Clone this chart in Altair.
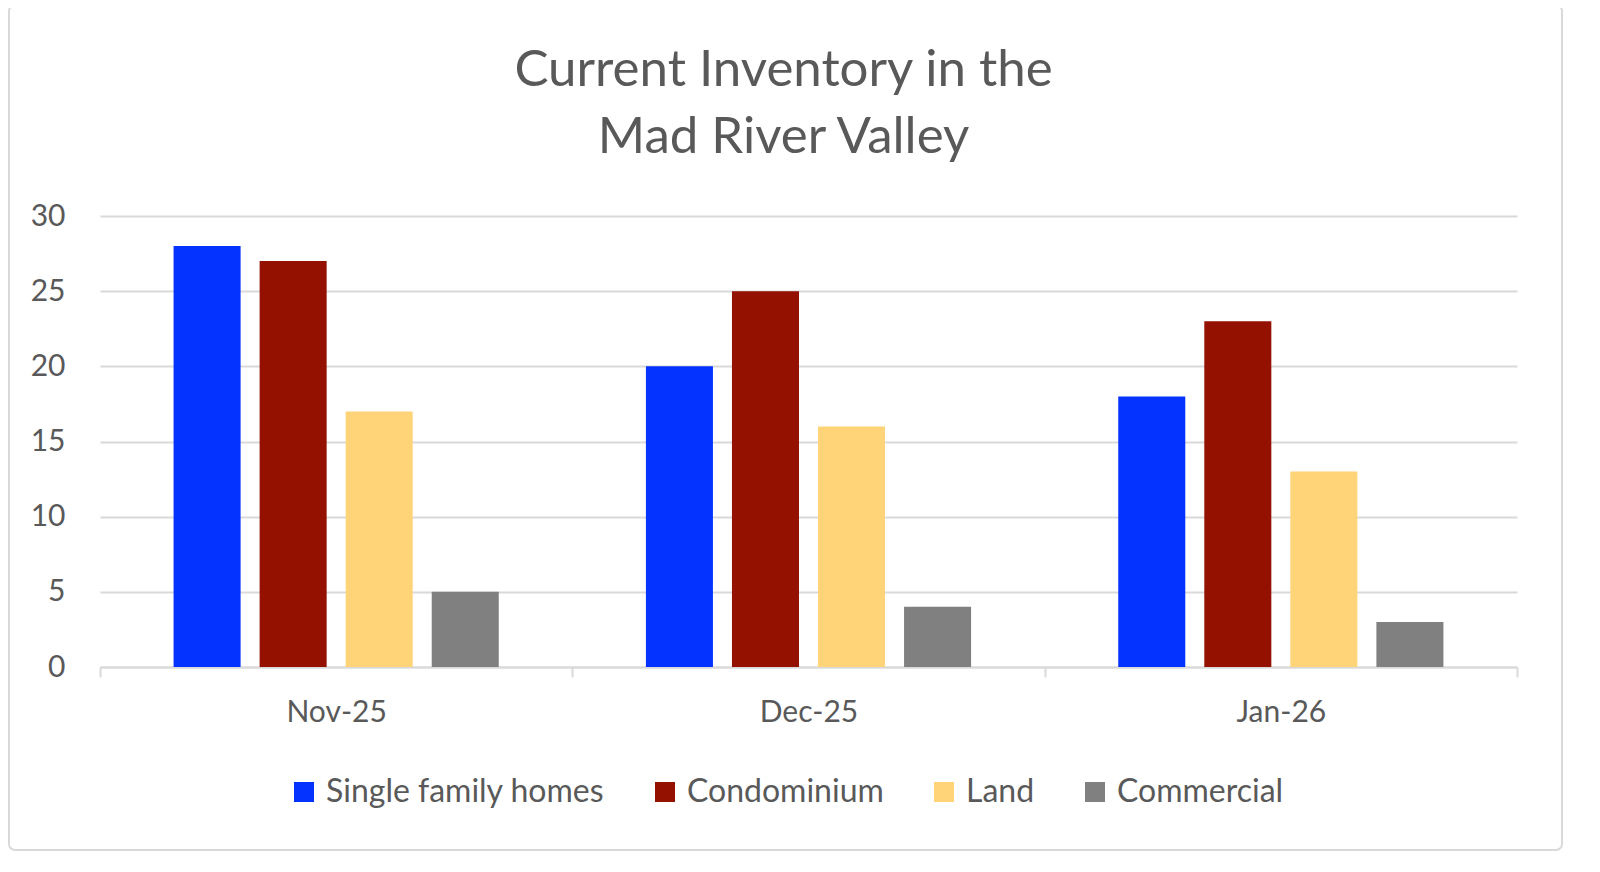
import altair as alt
import pandas as pd

months = ["Nov-25", "Dec-25", "Jan-26"]
series = ["Single family homes", "Condominium", "Land", "Commercial"]
single_family = [28, 20, 18]
condominium = [27, 25, 23]
land = [17, 16, 13]
commercial = [5, 4, 3]
colors = ["#0433FF", "#941100", "#FFD479", "#808080"]

rows = []
for name, vals in zip(series, [single_family, condominium, land, commercial]):
    for m, v in zip(months, vals):
        rows.append({"month": m, "type": name, "count": v})
df = pd.DataFrame(rows)

FONT = "Lato"
TXT = "#595959"
GRID = "#d9d9d9"

bars = alt.Chart(df).mark_bar().encode(
    x=alt.X("month:N", sort=months, title=None,
            scale=alt.Scale(paddingInner=0, paddingOuter=0),
            axis=alt.Axis(labelAngle=0, labelFontSize=30, labelColor=TXT, labelFont=FONT,
                          labelPadding=20, domainColor=GRID, domainWidth=2,
                          tickColor=GRID, tickWidth=2, tickSize=10, tickBand="extent",
                          grid=False)),
    xOffset=alt.XOffset("type:N", sort=series,
                        scale=alt.Scale(paddingInner=0.221, paddingOuter=0.855)),
    y=alt.Y("count:Q", title=None,
            scale=alt.Scale(domain=[0, 30], nice=False),
            axis=alt.Axis(values=[0, 5, 10, 15, 20, 25, 30], labelFontSize=30,
                          labelColor=TXT, labelFont=FONT, labelPadding=35,
                          domain=False, ticks=False, gridColor=GRID, gridWidth=2)),
    color=alt.Color("type:N", sort=series,
                    scale=alt.Scale(domain=series, range=colors),
                    legend=alt.Legend(title=None, orient="none", direction="horizontal",
                                      legendX=188, legendY=560,
                                      symbolType="square", symbolSize=400,
                                      symbolStrokeWidth=0, labelLimit=0,
                                      labelFontSize=32, labelColor=TXT, labelFont=FONT,
                                      labelOffset=6, columnPadding=44)),
)

frame = alt.Chart(alt.Data(values=[{}])).mark_rect(
    fill=None, stroke=GRID, strokeWidth=2, cornerRadius=6
).encode(
    x=alt.value(-91), x2=alt.value(1462),
    y=alt.value(-211), y2=alt.value(634),
)

chart = alt.layer(frame, bars).properties(
    width=1417, height=451,
    autosize=alt.AutoSizeParams(type="none"),
    padding={"left": 92, "top": 208, "right": 60, "bottom": 190},
    title=alt.Title(["Current Inventory in the", "Mad River Valley"],
                    fontSize=51, color=TXT, font=FONT, fontWeight="normal",
                    lineHeight=67, anchor="middle", frame="group", dx=-25, offset=-160),
).configure_view(stroke=None)

chart.save("out.html", embed_options={"renderer": "svg", "actions": False})
